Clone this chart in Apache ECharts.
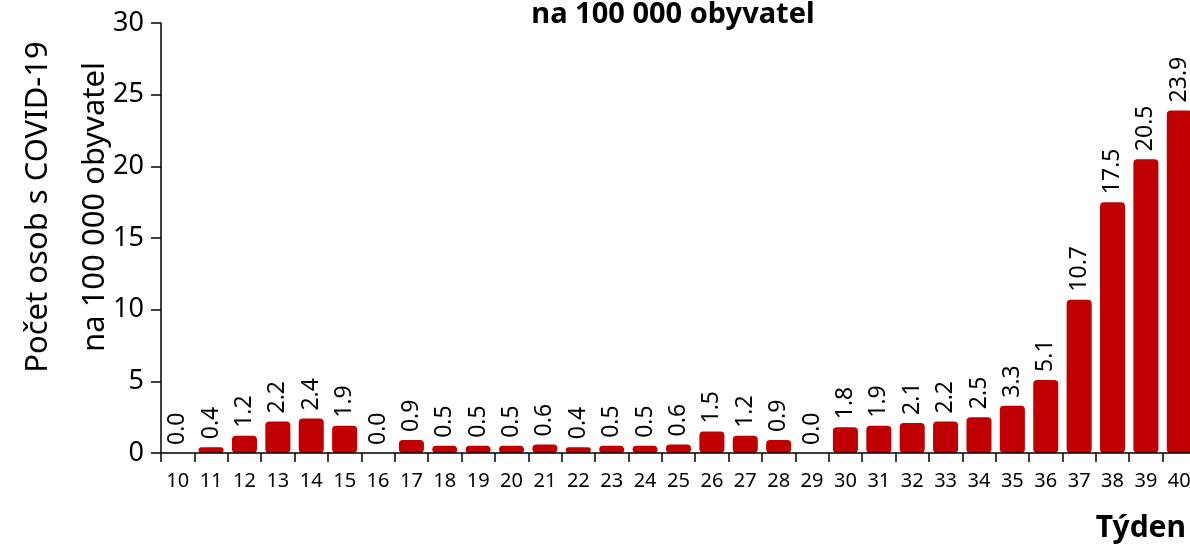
<!DOCTYPE html>
<html>
<head>
<meta charset="utf-8">
<script src="https://cdn.jsdelivr.net/npm/echarts@6/dist/echarts.min.js"></script>
<style>
html,body{margin:0;padding:0;background:#fff;}
#myChart{width:1190px;height:547px;}
</style>
</head>
<body>
<div id="myChart"></div>
<script>
// týdny
var weeks = ['10','11','12','13','14','15','16','17','18','19','20','21','22','23','24','25','26','27','28','29','30','31','32','33','34','35','36','37','38','39','40'];
// počet osob na 100 000 obyvatel
var values = [0.0,0.4,1.2,2.2,2.4,1.9,0.0,0.9,0.5,0.5,0.5,0.6,0.4,0.5,0.5,0.6,1.5,1.2,0.9,0.0,1.8,1.9,2.1,2.2,2.5,3.3,5.1,10.7,17.5,20.5,23.9];
var yTicks = [0, 5, 10, 15, 20, 25, 30];

var font = 'Noto Sans';
var myChart = echarts.init(document.getElementById('myChart'));

// nulové sloupce bez obrysu
var barData = values.map(function (v) {
    return v === 0 ? {value: v, itemStyle: {borderWidth: 0}} : v;
});

var option = {
    animation: false,
    backgroundColor: '#fff',
    textStyle: {fontFamily: font},
    graphic: [
        {
            // titulek (horní řádek je oříznutý)
            type: 'text',
            x: 673, y: 29,
            style: {text: 'na 100 000 obyvatel', fontSize: 29, fontWeight: 'bold', fill: '#000',
                    fontFamily: font, align: 'center', verticalAlign: 'bottom'}
        },
        {
            type: 'text',
            x: 38, y: 207,
            rotation: Math.PI / 2,
            style: {text: 'Počet osob s COVID-19', fontSize: 31, fill: '#000',
                    fontFamily: font, align: 'center', verticalAlign: 'middle'}
        },
        {
            type: 'text',
            x: 95, y: 207,
            rotation: Math.PI / 2,
            style: {text: 'na 100 000 obyvatel', fontSize: 31, fill: '#000',
                    fontFamily: font, align: 'center', verticalAlign: 'middle'}
        },
        {
            type: 'text',
            x: 1186, y: 543,
            style: {text: 'Týden', fontSize: 30, fontWeight: 'bold', fill: '#000',
                    fontFamily: font, align: 'right', verticalAlign: 'bottom'}
        }
    ],
    grid: {
        left: 161,
        right: -6,
        top: 23,
        bottom: 94,
        containLabel: false,
        outerBoundsMode: 'none'
    },
    xAxis: {
        type: 'category',
        data: weeks,
        boundaryGap: true,
        z: 5,
        axisLine: {lineStyle: {color: '#000', width: 1.5}},
        axisTick: {show: true, inside: false, length: 9, alignWithLabel: false, lineStyle: {color: '#000', width: 1.5}},
        axisLabel: {fontSize: 20, color: '#000', margin: 18, interval: 0}
    },
    yAxis: {
        type: 'value',
        min: 0,
        max: 30,
        interval: 5,
        splitLine: {show: false},
        axisLine: {show: true, lineStyle: {color: '#000', width: 1.5}},
        axisTick: {show: true, length: 10, lineStyle: {color: '#000', width: 1.5}},
        axisLabel: {
            fontSize: 27, color: '#000', margin: 17,
            formatter: function (v) { return yTicks.indexOf(v) >= 0 ? String(v) : ''; }
        }
    },
    series: [{
        type: 'bar',
        data: barData,
        barWidth: '75%',
        itemStyle: {color: '#C00000', borderColor: '#C00000', borderWidth: 2, borderRadius: 3},
        label: {
            show: true,
            position: 'top',
            rotate: 90,
            align: 'left',
            verticalAlign: 'middle',
            distance: 8,
            fontSize: 23,
            color: '#000',
            formatter: function (p) { return p.value.toFixed(1); }
        }
    }]
};
myChart.setOption(option);
</script>
</body>
</html>
